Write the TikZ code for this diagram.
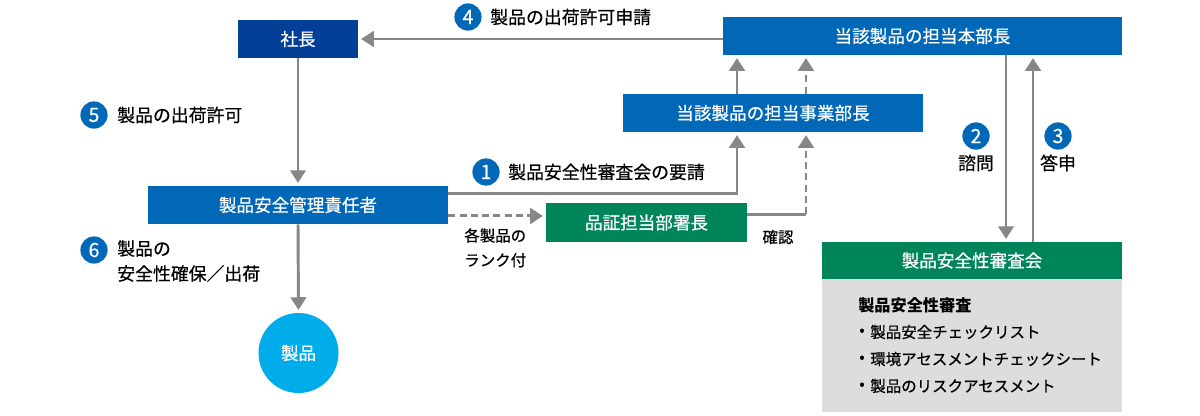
\documentclass[tikz,border=0pt]{standalone}
\usepackage{fontspec}
\setmainfont{Noto Sans CJK JP}[UprightFeatures={FakeBold=0.6}]
\usepackage{tikz}
\usetikzlibrary{arrows.meta}

\definecolor{darkblue}{HTML}{033F97}
\definecolor{midblue}{HTML}{0068B7}
\definecolor{darkgreen}{HTML}{00855A}
\definecolor{skyblue}{HTML}{00ACE9}
\definecolor{arrowgray}{HTML}{878787}
\definecolor{panelgray}{HTML}{DDDDDD}

\tikzset{
    box/.style={fill=midblue, text=white, minimum height=0.95cm, inner sep=0pt, font=\fontsize{12.5}{14}\selectfont},
    num/.style={circle, fill=midblue, text=white, minimum size=0.68cm, inner sep=0pt, font=\fontsize{14}{14}\selectfont},
    lbl/.style={inner sep=0pt, anchor=west, font=\fontsize{12.7}{17.8}\selectfont, align=left},
    small/.style={inner sep=0pt, font=\fontsize{11}{17.5}\selectfont, align=left},
    arr/.style={draw=arrowgray, line width=2.1pt, -{Triangle[width=11pt,length=9pt]}, shorten >=2pt},
    darr/.style={arr, dash pattern=on 5pt off 3pt},
}

\begin{document}
\begin{tikzpicture}[x=0.025cm, y=-0.025cm]
        \useasboundingbox (0,0) rectangle (1200,415);

        % Boxes
        \node[box, fill=darkblue, minimum width=3cm] (shacho) at (298,39) {社長};
        \node[box, minimum width=9.975cm] (honbu) at (922.5,36) {当該製品の担当本部長};
        \node[box, minimum width=7.5cm] (jigyo) at (773,113) {当該製品の担当事業部長};
        \node[box, minimum width=7.5cm] (kanri) at (298,205) {製品安全管理責任者};
        \node[box, fill=darkgreen, minimum width=5.025cm, minimum height=0.975cm] (hinsho) at (646.5,222.5) {品証担当部署長};
        \node[box, fill=panelgray, minimum width=7.5cm, minimum height=3.325cm] (panel) at (972,345.5) {};
        \node[box, fill=darkgreen, minimum width=7.5cm, minimum height=0.925cm] (shinsa) at (972,260.5) {製品安全性審査会};
        \node[circle, fill=skyblue, text=white, minimum size=2cm, inner sep=0pt, font=\fontsize{12.5}{14}\selectfont] (seihin) at (298.5,353) {製品};

        % Columns of the vertical connectors
        \coordinate (c1) at (737,0);
        \coordinate (c2) at (806,0);
        \coordinate (c3) at (1006,0);
        \coordinate (c4) at (1033,0);
        \coordinate (rank) at ([yshift=-7.8pt]kanri.east);
        \coordinate (kakunin) at ([yshift=6pt]hinsho.east);

        % Connectors
        \draw[arr] (honbu.west |- shacho.east) -- (shacho.east);
        \draw[arr] (shacho.south) -- (kanri.north);
        \draw[arr] ([yshift=8.5pt]kanri.east) -| (jigyo.south -| c1);
        \draw[arr] (jigyo.north -| c1) -- (honbu.south -| c1);
        \draw[darr] (rank) -- (rank -| hinsho.west);
        \draw[draw=arrowgray, line width=2.1pt] (kakunin) -- (kakunin -| c2);
        \draw[darr] (kakunin -| c2) -- (jigyo.south -| c2);
        \draw[darr] (jigyo.north -| c2) -- (honbu.south -| c2);
        \draw[arr] (honbu.south -| c3) -- (shinsa.north -| c3);
        \draw[arr] (shinsa.north -| c4) -- (honbu.south -| c4);
        \draw[arr] (kanri.south) -- (seihin.north);

        % Numbered labels
        \node[num] (n4) at (468,17) {4};
        \node[lbl] (t4) at (490,17) {製品の出荷許可申請};
        \node[num] (n5) at (94,115) {5};
        \node[lbl] (t5) at (117,115) {製品の出荷許可};
        \node[num] (n1) at (486,172) {1};
        \node[lbl] (t1) at (508,172) {製品安全性審査会の要請};
        \node[num] (n2) at (976,136) {2};
        \node[lbl, anchor=center] (t2) at (976,163) {諮問};
        \node[num] (n3) at (1058,136) {3};
        \node[lbl, anchor=center] (t3) at (1058,163) {答申};
        \node[num] (n6) at (94,250) {6};
        \node[lbl, anchor=north west] (t6) at (117,240) {製品の\\安全性確保／出荷};

        % Small labels
        \node[small, anchor=north west] (trank) at (464,228) {各製品の\\ランク付};
        \node[small] (tkakunin) at (778,237) {確認};

        % Panel contents
        \node[lbl, font=\fontsize{11.5}{14}\selectfont\bfseries] (head) at (858,305) {製品安全性審査};
        \node[small] (b1) at (862,332) {•};
        \node[small, anchor=west] (i1) at (870,332) {製品安全チェックリスト};
        \node[small] (b2) at (862,359) {•};
        \node[small, anchor=west] (i2) at (870,359) {環境アセスメントチェックシート};
        \node[small] (b3) at (862,386) {•};
        \node[small, anchor=west] (i3) at (870,386) {製品のリスクアセスメント};
    \end{tikzpicture}
\end{document}
